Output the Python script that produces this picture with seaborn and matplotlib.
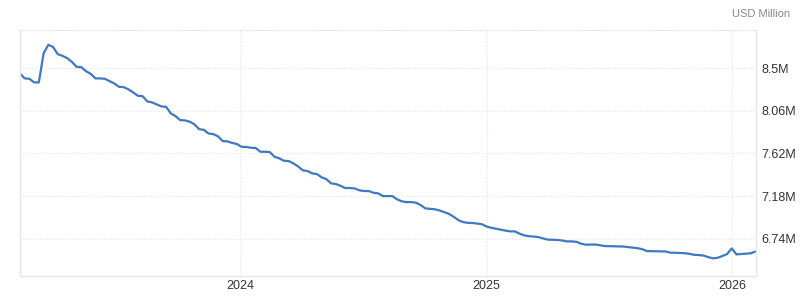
import matplotlib
matplotlib.use("Agg")
import matplotlib.pyplot as plt
from matplotlib.ticker import FuncFormatter, FixedLocator
import pandas as pd
import seaborn as sns

# Weekly observations (Wednesdays), first week and count
start_date = "2023-02-08"
n_weeks = 157

# Total assets, in millions of "USD Million" (i.e. 8.5 -> 8.5M)
total_assets = [
    8.445, 8.394, 8.390, 8.353, 8.353, 8.651, 8.740, 8.719, 8.644, 8.627,
    8.603, 8.565, 8.513, 8.510, 8.469, 8.441, 8.394, 8.394, 8.390, 8.366,
    8.342, 8.307, 8.304, 8.281, 8.250, 8.215, 8.211, 8.157, 8.147, 8.126,
    8.105, 8.101, 8.033, 8.005, 7.964, 7.961, 7.948, 7.921, 7.871, 7.864,
    7.826, 7.820, 7.797, 7.748, 7.745, 7.729, 7.718, 7.689, 7.688, 7.679,
    7.677, 7.638, 7.638, 7.634, 7.586, 7.570, 7.545, 7.542, 7.518, 7.487,
    7.446, 7.439, 7.415, 7.408, 7.374, 7.356, 7.312, 7.305, 7.287, 7.264,
    7.264, 7.260, 7.240, 7.233, 7.233, 7.215, 7.209, 7.181, 7.181, 7.181,
    7.147, 7.127, 7.119, 7.119, 7.113, 7.088, 7.054, 7.050, 7.045, 7.033,
    7.016, 6.998, 6.968, 6.933, 6.913, 6.905, 6.903, 6.898, 6.891, 6.867,
    6.854, 6.844, 6.834, 6.825, 6.817, 6.817, 6.793, 6.776, 6.767, 6.764,
    6.758, 6.744, 6.732, 6.730, 6.729, 6.723, 6.714, 6.714, 6.710, 6.691,
    6.680, 6.681, 6.682, 6.675, 6.666, 6.665, 6.664, 6.663, 6.661, 6.655,
    6.648, 6.644, 6.634, 6.614, 6.613, 6.612, 6.612, 6.610, 6.597, 6.597,
    6.595, 6.592, 6.586, 6.576, 6.573, 6.568, 6.552, 6.539, 6.545, 6.563,
    6.583, 6.642, 6.580, 6.584, 6.588, 6.591, 6.609,
]

y_ticks = [6.74, 7.18, 7.62, 8.06, 8.5]
x_tick_labels = ["2024", "2025", "2026"]
unit_label = "USD Million"

dates = pd.date_range(start_date, periods=n_weeks, freq="7D")
df = pd.DataFrame({"date": dates, "value": total_assets})

sns.set_style("white")
plt.rcParams["font.family"] = ["Liberation Sans", "DejaVu Sans"]

fig = plt.figure(figsize=(8.0, 3.01), dpi=100)
ax = fig.add_axes([0.025, 0.083, 0.92, 0.817])

sns.lineplot(data=df, x="date", y="value", ax=ax, color="#3f78c3", linewidth=1.6)

ax.set_xlim(dates[0], dates[-1] + pd.Timedelta(days=1))
ax.set_ylim(6.357, 8.892)

ax.yaxis.tick_right()
ax.yaxis.set_major_locator(FixedLocator(y_ticks))
ax.yaxis.set_major_formatter(FuncFormatter(lambda v, p: f"{v:g}M"))

xt = [pd.Timestamp(f"{y}-01-01") for y in x_tick_labels]
ax.set_xticks(xt)
ax.set_xticklabels(x_tick_labels)

ax.tick_params(axis="both", length=0, labelsize=9, labelcolor="#333333")
ax.tick_params(axis="y", pad=4)
ax.tick_params(axis="x", pad=3)

ax.grid(True, color="#e4e4e4", linestyle=(0, (1, 1.5)), linewidth=0.8)
ax.set_axisbelow(True)

for side in ["left", "bottom", "right"]:
    ax.spines[side].set_visible(True)
    ax.spines[side].set_color("#e6e6e6")
    ax.spines[side].set_linewidth(1.0)
ax.spines["top"].set_color("#e4e4e4")
ax.spines["top"].set_linestyle((0, (1, 1.5)))
ax.spines["top"].set_linewidth(0.8)

ax.set_xlabel("")
ax.set_ylabel("")

fig.text(0.988, 0.955, unit_label, ha="right", va="center",
         fontsize=8, color="#888888")

fig.savefig("out.png", dpi=100, facecolor="white")
